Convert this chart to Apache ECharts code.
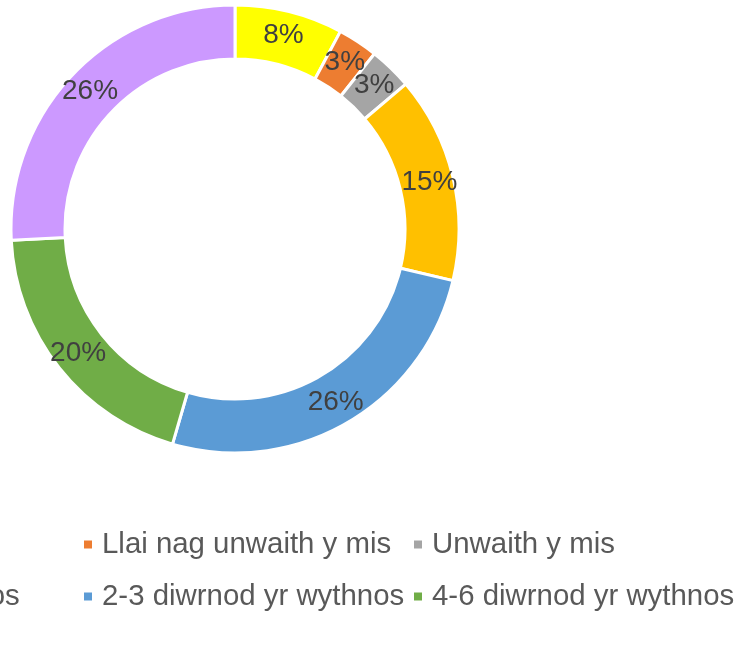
<!DOCTYPE html>
<html>
<head>
<meta charset="utf-8">
<script src="https://cdn.jsdelivr.net/npm/echarts@6/dist/echarts.min.js"></script>
<style>
  html, body { margin: 0; padding: 0; background: #fff; }
  #chart { width: 736px; height: 658px; }
</style>
</head>
<body>
<div id="chart"></div>
<script>
var categories = ['Byth', 'Llai nag unwaith y mis', 'Unwaith y mis', 'Unwaith yr wythnos',
                  '2-3 diwrnod yr wythnos', '4-6 diwrnod yr wythnos', 'Bob dydd'];
var values = [7.8, 2.9, 3.1, 14.9, 25.8, 19.7, 25.8];
var colors = ['#FFFF00', '#ED7D31', '#A5A5A5', '#FFC000', '#5B9BD5', '#70AD47', '#CC99FF'];

// legend columns (Excel lays the legend out in columns)
var legendCol1 = ['Byth', 'Unwaith yr wythnos'];
var legendCol2 = ['Llai nag unwaith y mis', '2-3 diwrnod yr wythnos'];
var legendCol3 = ['Unwaith y mis', '4-6 diwrnod yr wythnos'];
var legendCol4 = ['Bob dydd'];

var chart = echarts.init(document.getElementById('chart'));

function makeLegend(names, left) {
    return {
        data: names,
        orient: 'vertical',
        left: left,
        top: 530,
        padding: 0,
        icon: 'rect',
        itemWidth: 10,
        itemHeight: 10,
        itemGap: 23,
        selectedMode: false,
        textStyle: {
            color: '#595959',
            fontFamily: 'Liberation Sans, Arial, sans-serif',
            fontSize: 29.4,
            lineHeight: 28,
            padding: [0, 0, 0, 4]
        }
    };
}

var pieData = categories.map(function (name, i) {
    return { name: name, value: values[i], itemStyle: { color: colors[i] } };
});

option = {
    animation: false,
    backgroundColor: '#ffffff',
    legend: [
        makeLegend(legendCol1, -255),
        makeLegend(legendCol2, 82),
        makeLegend(legendCol3, 412),
        makeLegend(legendCol4, 742)
    ],
    series: [{
        type: 'pie',
        center: [235, 229],
        radius: [170, 224],
        startAngle: 90,
        clockwise: true,
        avoidLabelOverlap: false,
        minShowLabelAngle: 0,
        itemStyle: {
            borderColor: '#ffffff',
            borderWidth: 3
        },
        label: {
            show: true,
            position: 'inside',
            color: '#404040',
            fontFamily: 'Liberation Sans, Arial, sans-serif',
            fontSize: 28,
            padding: [6, 0, 0, 0],
            formatter: function (p) {
                return Math.round(p.percent) + '%';
            }
        },
        labelLayout: { hideOverlap: false },
        labelLine: { show: false },
        emphasis: { disabled: true },
        data: pieData
    }]
};
chart.setOption(option);
</script>
</body>
</html>
